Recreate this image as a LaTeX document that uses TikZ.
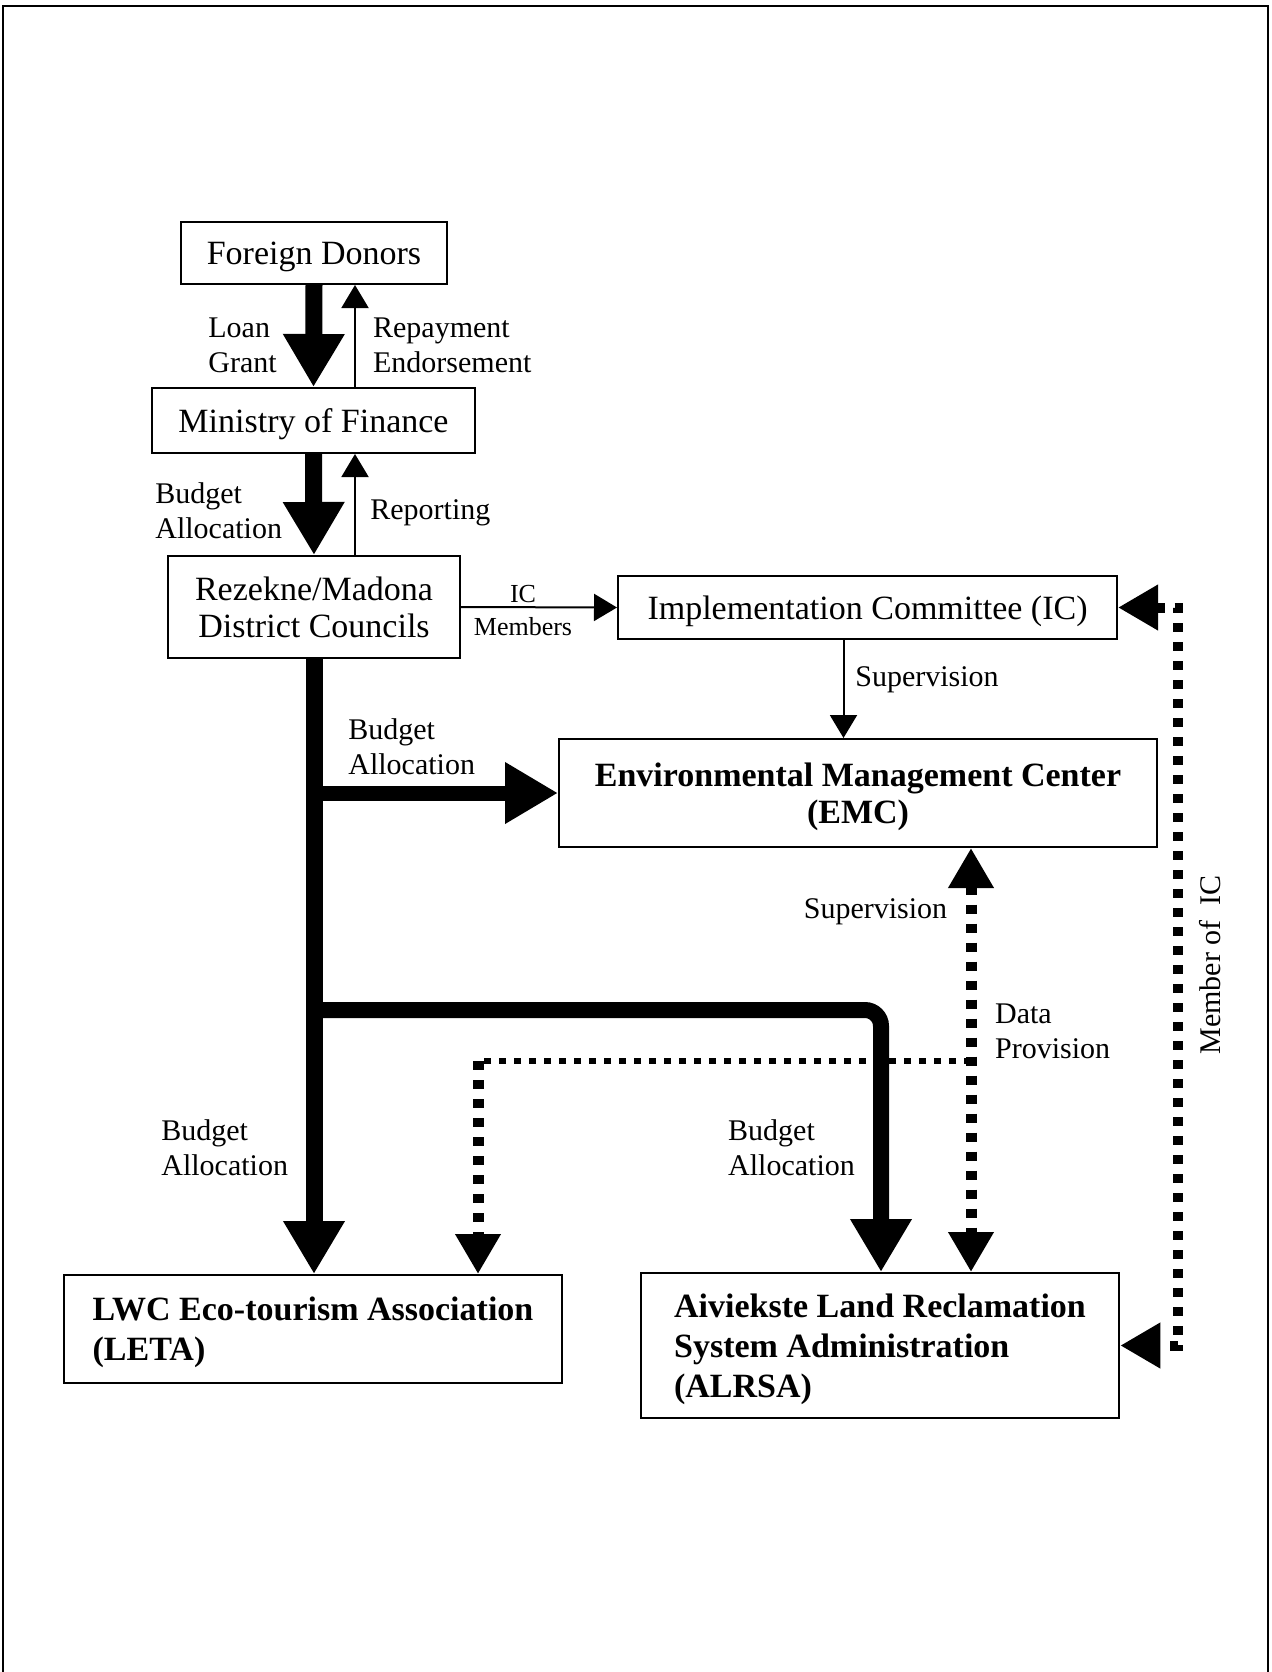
\documentclass[tikz,border=0pt]{standalone}
\usepackage{fontspec}
\setmainfont{Liberation Serif}
\usetikzlibrary{arrows.meta}

\tikzset{
  box/.style={draw,line width=1pt,inner sep=0pt,align=center,text depth=0pt,
    font=\fontsize{17pt}{18.5pt}\selectfont},
  boldbox/.style={box,align=left,font=\fontsize{17pt}{20pt}\selectfont\bfseries},
  lbl/.style={inner sep=0pt,align=left,anchor=west,
    font=\fontsize{15pt}{17.5pt}\selectfont},
  fundarrow/.style={line width=8.5pt,-{Triangle[length=26.5pt,width=29pt]}},
  linkarrow/.style={line width=1pt,-{Triangle[length=11.5pt,width=13.5pt]}},
  dataline/.style={line width=5.5pt,dash pattern=on 4.5pt off 5pt},
  datatip/.style={-{Triangle[length=20pt,width=21.5pt]}},
  datatwoway/.style={{Triangle[length=20pt,width=21.5pt]}-{Triangle[length=20pt,width=21.5pt]}}
}

\begin{document}
\begin{tikzpicture}[x=0.5pt,y=-0.5pt]
  \useasboundingbox (0,0) rectangle (1271,1672);

  % Cadre
  \draw[line width=1.2pt] (3,1672) -- (3,6) -- (1268,6) -- (1268,1672);

  % Boites
  \node[box,minimum width=133pt,minimum height=31pt] (fd) at (314,253) {Foreign Donors};
  \node[box,minimum width=161.5pt,minimum height=32.5pt] (mof) at (313.5,420.5) {Ministry of Finance};
  \node[box,minimum width=146pt,minimum height=51pt] (rez) at (314,607) {Rezekne/Madona\\District Councils};
  \node[box,minimum width=249.5pt,minimum height=31.5pt] (ic) at (867.5,607.5) {Implementation Committee (IC)};
  \node[box,minimum width=299pt,minimum height=54pt,
    font=\fontsize{17pt}{18.5pt}\selectfont\bfseries] (emc) at (858,793) {Environmental Management Center\\(EMC)};
  \node[boldbox,minimum width=249pt,minimum height=54pt] (leta) at (313,1329) {LWC Eco-tourism Association\\(LETA)};
  \node[boldbox,minimum width=239.25pt,minimum height=72.5pt] (alrsa) at (880,1345.5) {Aiviekste Land Reclamation\\System Administration\\(ALRSA)};

  % Points de passage
  \coordinate (rx) at (355,0);
  \coordinate (sx) at (843.5,0);
  \coordinate (bj) at (881,1010);
  \coordinate (dp) at (971,1061);
  \coordinate (lk) at (478,1061);
  \coordinate (mx) at (1178,0);

  % Flux financiers
  \draw[fundarrow] (fd.south) -- (mof.north);
  \draw[fundarrow] (mof.south) -- (rez.north);
  \draw[fundarrow] (rez.south) -- (rez.south |- leta.north);
  \draw[fundarrow,line width=7.5pt] (rez.south |- emc.west) -- (emc.west);
  \draw[fundarrow,line width=8pt,rounded corners=8pt] (rez.south |- bj) -- (bj) -- (bj |- alrsa.north);

  % Retours et liens
  \draw[linkarrow] (mof.north -| rx) -- (fd.south -| rx);
  \draw[linkarrow] (rez.north -| rx) -- (mof.south -| rx);
  \draw[linkarrow] (rez.east) -- (ic.west);
  \draw[linkarrow] (ic.south -| sx) -- (emc.north -| sx);

  % Donnees et supervision
  \draw[dataline,datatwoway] (emc.south -| dp) -- (alrsa.north -| dp);
  \draw[dataline,line width=3.25pt,dash pattern=on 3.5pt off 4pt] (dp) -- (lk);
  \draw[dataline,datatip] (lk) -- (lk |- leta.north);
  \draw[dataline,line width=5pt,datatwoway] (ic.east) -- (ic.east -| mx) -- (alrsa.east -| mx) -- (alrsa.east);

  % Etiquettes
  \node[lbl] (loan) at (208,345) {Loan\\Grant};
  \node[lbl] (repay) at (372.7,345) {Repayment\\Endorsement};
  \node[lbl] (budtop) at (155,511) {Budget\\Allocation};
  \node[lbl] (report) at (370,513) {Reporting};
  \node[lbl,align=center,anchor=center,font=\fontsize{13pt}{16.5pt}\selectfont] (icmem) at (523,611) {IC\\Members};
  \node[lbl] (supic) at (855,680) {Supervision};
  \node[lbl] (budemc) at (348,747) {Budget\\Allocation};
  \node[lbl,anchor=east] (supemc) at (947.6,911.7) {Supervision};
  \node[lbl] (data) at (994.7,1031.5) {Data\\Provision};
  \node[lbl] (budalr) at (727.8,1148) {Budget\\Allocation};
  \node[lbl] (budlet) at (161,1148) {Budget\\Allocation};
  \node[lbl,anchor=center,rotate=90] (member) at (1210,965) {Member of~ IC};

\end{tikzpicture}
\end{document}
